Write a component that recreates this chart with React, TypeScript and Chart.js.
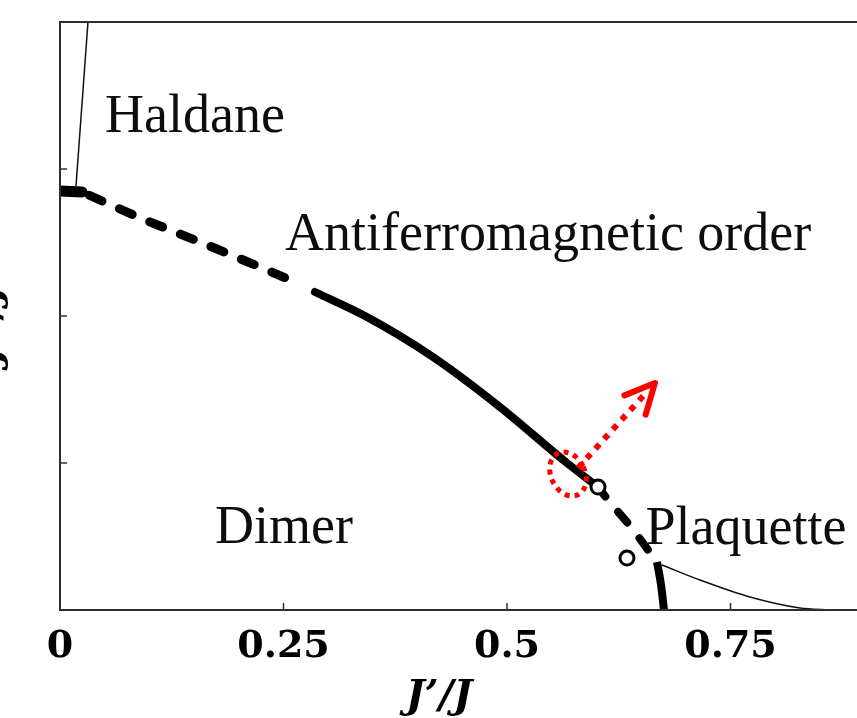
import { useEffect, useRef } from "react";
import { Chart, registerables } from "chart.js";

Chart.register(...registerables);

// Axis ticks
const xTicks = [0, 0.25, 0.5, 0.75];
const yTicks = [0.25, 0.5, 0.75];
const X_MAX = 0.8915;
const Y_MAX = 1.0;

// Phase boundaries in (J'/J, J''/J)
const afStubX = [0, 0.0246];
const afStubY = [0.7126, 0.7109];

const haldaneX = [0.0179, 0.0313];
const haldaneY = [0.7211, 1.0];

const afDimerDashedX = [0.0246, 0.0895, 0.1566, 0.2237, 0.2707];
const afDimerDashedY = [0.7109, 0.6667, 0.6259, 0.5833, 0.5527];

const afDimerSolidX = [0.2852, 0.3434, 0.4172, 0.4922, 0.5671, 0.6018];
const afDimerSolidY = [0.5408, 0.4983, 0.4303, 0.3452, 0.25, 0.2092];

const nearTripleX = [0.6018, 0.613, 0.6398, 0.6678];
const nearTripleY = [0.2092, 0.1871, 0.1395, 0.0816];

const dimerPlaqX = [0.6678, 0.6723, 0.6756];
const dimerPlaqY = [0.0816, 0.0425, 0];

const plaqAfX = [0.6734, 0.7159, 0.7718, 0.8277, 0.8613];
const plaqAfY = [0.0765, 0.051, 0.0221, 0.0034, 0];

// Open circle markers
const markerX = [0.6018, 0.6342];
const markerY = [0.2092, 0.0884];

// Phase names and where they sit
const phaseNames = ["Haldane", "Antiferromagnetic order", "Dimer", "Plaquette"];
const phaseX = [0.0503, 0.2517, 0.1734, 0.655];
const phaseY = [0.813, 0.6122, 0.114, 0.112];

// Red highlight: ring centre and arrow (start -> tip)
const ringAt = [0.5682, 0.2313];
const arrowFrom = [0.5794, 0.2415];
const arrowTo = [0.6655, 0.3861];

const X_TITLE_AT = 0.424;

const pts = (xs: number[], ys: number[]) => xs.map((x, i) => ({ x, y: ys[i] }));

const overlay = {
  id: "overlay",
  afterDatasetsDraw(chart: any) {
    const { ctx, chartArea } = chart;
    const xs = chart.scales.x;
    const ys = chart.scales.y;
    const { left, top, bottom } = chartArea;
    const edge = chart.width;
    ctx.save();

    // frame
    ctx.strokeStyle = "#2e2e2e";
    ctx.lineWidth = 2;
    ctx.beginPath();
    ctx.moveTo(edge, top);
    ctx.lineTo(left, top);
    ctx.lineTo(left, bottom);
    ctx.lineTo(edge, bottom);
    ctx.stroke();

    // inward ticks
    ctx.lineWidth = 1.5;
    ctx.beginPath();
    yTicks.forEach((v) => {
      const py = ys.getPixelForValue(v);
      ctx.moveTo(left, py);
      ctx.lineTo(left + 7, py);
    });
    xTicks.forEach((v) => {
      if (v === 0) return;
      const px = xs.getPixelForValue(v);
      ctx.moveTo(px, bottom);
      ctx.lineTo(px, bottom - 7);
    });
    ctx.stroke();

    // phase labels
    ctx.fillStyle = "#0d0d0d";
    ctx.font = '54px "Liberation Serif"';
    ctx.textAlign = "left";
    ctx.textBaseline = "alphabetic";
    phaseNames.forEach((name, i) => {
      ctx.fillText(name, xs.getPixelForValue(phaseX[i]), ys.getPixelForValue(phaseY[i]));
    });

    // red dotted ring
    const cx = xs.getPixelForValue(ringAt[0]);
    const cy = ys.getPixelForValue(ringAt[1]);
    ctx.strokeStyle = "#ff0000";
    ctx.lineWidth = 5;
    ctx.setLineDash([5, 5]);
    ctx.beginPath();
    ctx.ellipse(cx, cy, 17, 23, -0.45, 0, Math.PI * 2);
    ctx.stroke();

    // red dotted arrow
    const ax = xs.getPixelForValue(arrowFrom[0]);
    const ay = ys.getPixelForValue(arrowFrom[1]);
    const tx = xs.getPixelForValue(arrowTo[0]);
    const ty = ys.getPixelForValue(arrowTo[1]);
    const ang = Math.atan2(ty - ay, tx - ax);
    const len = Math.hypot(tx - ax, ty - ay);
    ctx.lineWidth = 6;
    ctx.setLineDash([6, 7]);
    ctx.beginPath();
    ctx.moveTo(ax, ay);
    ctx.lineTo(ax + Math.cos(ang) * (len - 16), ay + Math.sin(ang) * (len - 16));
    ctx.stroke();
    ctx.setLineDash([]);
    ctx.lineCap = "round";
    ctx.lineJoin = "round";
    const back = ang + Math.PI;
    const wing = 33;
    const spread = 0.45;
    ctx.beginPath();
    ctx.moveTo(tx + Math.cos(back - spread) * wing, ty + Math.sin(back - spread) * wing);
    ctx.lineTo(tx, ty);
    ctx.lineTo(tx + Math.cos(back + spread) * wing, ty + Math.sin(back + spread) * wing);
    ctx.stroke();

    // axis titles
    ctx.fillStyle = "#000";
    ctx.font = 'italic bold 40px "DejaVu Serif"';
    ctx.textAlign = "center";
    ctx.textBaseline = "alphabetic";
    ctx.fillText("J\u2019/J", xs.getPixelForValue(X_TITLE_AT), 708);

    ctx.translate(0, (top + bottom) / 2 + 8);
    ctx.rotate(-Math.PI / 2);
    ctx.fillText("J\u2019\u2019/J", 0, 0);

    ctx.restore();
  },
};

export default function App() {
  const ref = useRef<HTMLCanvasElement | null>(null);

  useEffect(() => {
    if (!ref.current) return;
    const thick = { borderColor: "#000", borderWidth: 8, pointRadius: 0, showLine: true, order: 1, fill: false };
    const thin = { borderColor: "#111", borderWidth: 1.5, pointRadius: 0, showLine: true, order: 1, fill: false };
    const chart = new Chart(ref.current, {
      type: "scatter",
      data: {
        datasets: [
          { ...thick, data: pts(afStubX, afStubY), borderWidth: 11, borderCapStyle: "round" },
          { ...thin, data: pts(haldaneX, haldaneY) },
          {
            ...thick,
            data: pts(afDimerDashedX, afDimerDashedY),
            borderWidth: 9,
            borderDash: [14, 19],
            borderDashOffset: -8,
            borderCapStyle: "round",
          },
          {
            ...thick,
            data: pts(afDimerSolidX, afDimerSolidY),
            cubicInterpolationMode: "monotone",
            borderCapStyle: "round",
          },
          {
            ...thick,
            data: pts(nearTripleX, nearTripleY),
            borderDash: [14, 20],
            borderDashOffset: 2,
            borderCapStyle: "round",
          },
          {
            ...thick,
            data: pts(dimerPlaqX, dimerPlaqY),
            cubicInterpolationMode: "monotone",
            borderCapStyle: "butt",
          },
          { ...thin, data: pts(plaqAfX, plaqAfY), cubicInterpolationMode: "monotone" },
          {
            data: pts(markerX, markerY),
            showLine: false,
            pointRadius: 7,
            pointBorderWidth: 3,
            pointBorderColor: "#000",
            pointBackgroundColor: "#fff",
            order: 0,
          },
        ],
      },
      options: {
        animation: false,
        responsive: false,
        events: [],
        layout: { autoPadding: false, padding: { left: 60, top: 22, right: 0, bottom: 0 } },
        plugins: { legend: { display: false }, tooltip: { enabled: false } },
        scales: {
          x: {
            type: "linear",
            min: 0,
            max: X_MAX,
            grid: { display: false, drawTicks: false },
            border: { display: false },
            afterBuildTicks: (s: any) => {
              s.ticks = xTicks.map((value) => ({ value }));
            },
            afterFit: (s: any) => {
              s.height = 108;
              s.paddingLeft = 0;
              s.paddingRight = 0;
            },
            ticks: {
              padding: 14,
              color: "#000",
              maxRotation: 0,
              font: { family: "DejaVu Serif", weight: "bold", size: 38 },
              callback: (v: any) => String(v),
            },
          },
          y: {
            type: "linear",
            min: 0,
            max: Y_MAX,
            display: false,
          },
        },
      },
      plugins: [overlay],
    } as any);
    return () => chart.destroy();
  }, []);

  return (
    <div style={{ position: "fixed", left: 0, top: 0, width: 857, height: 718, background: "#fff" }}>
      <canvas ref={ref} width={857} height={718} />
    </div>
  );
}
